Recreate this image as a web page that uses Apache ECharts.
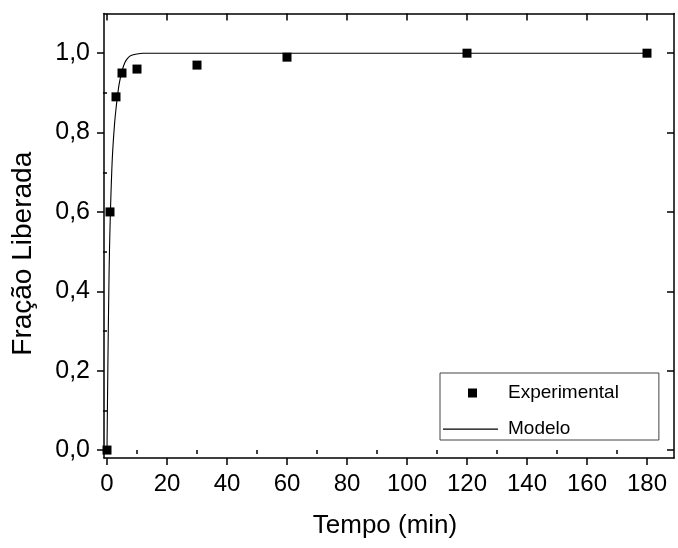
<!DOCTYPE html>
<html>
<head>
<meta charset="utf-8">
<script src="https://cdn.jsdelivr.net/npm/echarts@6/dist/echarts.min.js"></script>
<style>
  html, body { margin: 0; padding: 0; background: #fff; }
  #chart { width: 678px; height: 548px; }
</style>
</head>
<body>
<div id="chart"></div>
<script>
// pontos experimentais
const tempoExp = [0, 1, 3, 5, 10, 30, 60, 120, 180]
const fracaoExp = [0, 0.60, 0.89, 0.95, 0.96, 0.97, 0.99, 1.00, 1.00]

// curva do modelo
const tempoModelo = [0, 0.3, 0.7, 1.0, 1.3, 1.8, 2.5, 3.0, 4.0, 5.0, 6.0, 7.0, 8.0, 10, 12, 15, 20, 180]
const fracaoModelo = [0, 0.22, 0.45, 0.56, 0.64, 0.74, 0.82, 0.86, 0.92, 0.955, 0.977, 0.988, 0.994, 0.998, 1.0, 1.0, 1.0, 1.0]

// ticks
const xTicks = [0, 20, 40, 60, 80, 100, 120, 140, 160, 180]
const xMinorTicks = [10, 30, 50, 70, 90, 110, 130, 150, 170]
const yTicks = [0, 0.2, 0.4, 0.6, 0.8, 1.0]
const yMinorTicks = [0.1, 0.3, 0.5, 0.7, 0.9]

const fontFamily = 'Liberation Sans, Arial, sans-serif'
const axisColor = '#000'

const xRange = { min: -1, max: 189 }
const yRange = { min: -0.02, max: 1.1 }

function makeX(position, ticks, len, inside, extra) {
  return Object.assign({
    type: 'value',
    position: position,
    min: xRange.min,
    max: xRange.max,
    axisLine: { show: true, onZero: false, lineStyle: { color: axisColor, width: 1.5 } },
    axisTick: { show: true, inside: inside, length: len, customValues: ticks, lineStyle: { color: axisColor, width: 1.5 } },
    axisLabel: { show: false },
    splitLine: { show: false }
  }, extra || {})
}

function makeY(position, ticks, len, inside, extra) {
  return Object.assign({
    type: 'value',
    position: position,
    min: yRange.min,
    max: yRange.max,
    axisLine: { show: true, onZero: false, lineStyle: { color: axisColor, width: 1.5 } },
    axisTick: { show: true, inside: inside, length: len, customValues: ticks, lineStyle: { color: axisColor, width: 1.5 } },
    axisLabel: { show: false },
    splitLine: { show: false }
  }, extra || {})
}

const chart = echarts.init(document.getElementById('chart'))

chart.setOption({
  animation: false,
  backgroundColor: '#fff',
  textStyle: { fontFamily: fontFamily },
  grid: { left: 104, right: 4, top: 13.5, bottom: 90, containLabel: false },
  legend: {
    orient: 'vertical',
    left: 440,
    top: 373,
    padding: [10, 40, 1, 3],
    itemWidth: 55,
    itemHeight: 9,
    itemGap: 16,
    borderColor: '#444',
    borderWidth: 1,
    borderRadius: 0,
    textStyle: { fontSize: 19, color: '#000', lineHeight: 20, padding: [0, 0, 0, 5], fontFamily: fontFamily },
    data: [
      // quadrado pequeno no meio do espaco do icone
      { name: 'Experimental', icon: 'path://M0,0L0.01,0M55,9L55.01,9M25,0L34,0L34,9L25,9Z' },
      // linha fina horizontal
      { name: 'Modelo', icon: 'path://M0,0L0.01,0M55,9L55.01,9M0,3.9L55,3.9L55,5.2L0,5.2Z' }
    ]
  },
  xAxis: [
    makeX('bottom', xTicks, 7, false, {
      name: 'Tempo (min)',
      nameLocation: 'middle',
      nameGap: 55,
      nameTextStyle: { fontSize: 26, color: '#000', fontFamily: fontFamily, padding: [0, 8, 0, 0] },
      axisLabel: {
        show: true, customValues: xTicks, margin: 14, fontSize: 24, color: '#000', fontFamily: fontFamily,
        formatter: v => String(v)
      }
    }),
    makeX('bottom', xMinorTicks, 4, false, { axisLine: { show: false } }),
    makeX('top', xTicks, 7, true),
    makeX('top', xMinorTicks, 4, true, { axisLine: { show: false } })
  ],
  yAxis: [
    makeY('left', yTicks, 7, false, {
      name: 'Fração Liberada',
      nameLocation: 'middle',
      nameGap: 67,
      nameTextStyle: { fontSize: 28, color: '#000', fontFamily: fontFamily, padding: [0, 36, 0, 0] },
      axisLabel: {
        show: true, customValues: yTicks, margin: 14, fontSize: 25, color: '#000', fontFamily: fontFamily,
        formatter: v => v.toFixed(1).replace('.', ',')
      }
    }),
    makeY('left', yMinorTicks, 4, false, { axisLine: { show: false } }),
    makeY('right', yTicks, 7, true),
    makeY('right', yMinorTicks, 4, true, { axisLine: { show: false } })
  ],
  series: [
    {
      name: 'Experimental',
      type: 'scatter',
      xAxisIndex: 0,
      yAxisIndex: 0,
      symbol: 'rect',
      symbolSize: 9,
      itemStyle: { color: '#000', opacity: 1 },
      data: tempoExp.map((t, i) => [t, fracaoExp[i]]),
      z: 3
    },
    {
      name: 'Modelo',
      type: 'line',
      xAxisIndex: 0,
      yAxisIndex: 0,
      symbol: 'none',
      showSymbol: false,
      smooth: 0.3,
      lineStyle: { color: '#000', width: 1.1 },
      itemStyle: { color: '#000' },
      data: tempoModelo.map((t, i) => [t, fracaoModelo[i]]),
      z: 2
    }
  ]
})
</script>
</body>
</html>
